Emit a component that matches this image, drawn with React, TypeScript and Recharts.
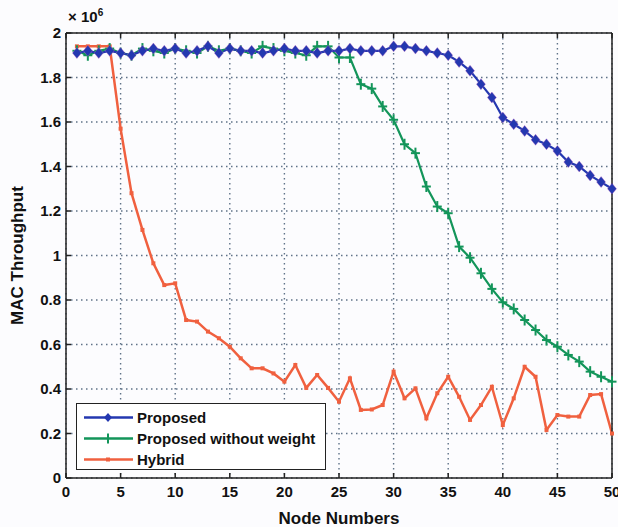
import React from 'react';
import { LineChart, Line, XAxis, YAxis, CartesianGrid, Legend, Label } from 'recharts';

// values are in units of 10^6
const nodes = [1, 2, 3, 4, 5, 6, 7, 8, 9, 10, 11, 12, 13, 14, 15, 16, 17, 18, 19, 20, 21, 22, 23, 24, 25, 26, 27, 28, 29, 30, 31, 32, 33, 34, 35, 36, 37, 38, 39, 40, 41, 42, 43, 44, 45, 46, 47, 48, 49, 50];
const proposed = [1.91, 1.92, 1.91, 1.92, 1.91, 1.9, 1.92, 1.93, 1.92, 1.93, 1.91, 1.92, 1.94, 1.91, 1.93, 1.92, 1.92, 1.91, 1.92, 1.93, 1.92, 1.92, 1.91, 1.92, 1.92, 1.93, 1.92, 1.92, 1.92, 1.94, 1.94, 1.93, 1.92, 1.91, 1.9, 1.87, 1.83, 1.77, 1.71, 1.62, 1.59, 1.56, 1.52, 1.5, 1.47, 1.42, 1.4, 1.36, 1.33, 1.3];
const proposedNoWeight = [1.92, 1.9, 1.92, 1.93, 1.91, 1.9, 1.93, 1.92, 1.91, 1.93, 1.92, 1.91, 1.94, 1.92, 1.93, 1.92, 1.91, 1.94, 1.93, 1.92, 1.91, 1.9, 1.94, 1.94, 1.89, 1.89, 1.77, 1.75, 1.67, 1.61, 1.5, 1.46, 1.31, 1.22, 1.19, 1.04, 0.99, 0.92, 0.85, 0.79, 0.76, 0.71, 0.665, 0.62, 0.59, 0.553, 0.523, 0.478, 0.455, 0.433];
const hybrid = [1.94, 1.94, 1.94, 1.94, 1.57, 1.28, 1.115, 0.965, 0.867, 0.875, 0.71, 0.703, 0.658, 0.628, 0.59, 0.538, 0.493, 0.493, 0.47, 0.433, 0.508, 0.405, 0.463, 0.405, 0.343, 0.448, 0.306, 0.308, 0.328, 0.478, 0.358, 0.403, 0.268, 0.381, 0.455, 0.365, 0.261, 0.328, 0.41, 0.238, 0.358, 0.5, 0.455, 0.216, 0.283, 0.276, 0.276, 0.373, 0.377, 0.2];

const xTicks = [0, 5, 10, 15, 20, 25, 30, 35, 40, 45, 50];
const yTicks = [0, 0.2, 0.4, 0.6, 0.8, 1, 1.2, 1.4, 1.6, 1.8, 2];

const data = nodes.map((n, i) => ({
  x: n,
  proposed: proposed[i],
  noWeight: proposedNoWeight[i],
  hybrid: hybrid[i],
}));

const BLUE = '#2438b0';
const GREEN = '#13955a';
const RED = '#f0603f';
const font = '"Liberation Sans", Arial, sans-serif';
const tickStyle = { fill: '#111', fontSize: 15, fontWeight: 700, fontFamily: font };

const Diamond = (p: any) => {
  const { cx, cy, index } = p;
  if (cx == null || cy == null) return <g key={index} />;
  return (
    <polygon key={index} points={`${cx},${cy - 5.5} ${cx + 4.5},${cy} ${cx},${cy + 5.5} ${cx - 4.5},${cy}`}
      fill={BLUE} stroke="#c060c0" strokeOpacity={0.35} strokeWidth={1} />
  );
};

const Plus = (p: any) => {
  const { cx, cy, index } = p;
  if (cx == null || cy == null) return <g key={index} />;
  return (
    <g key={index}>
      <line x1={cx - 4.5} y1={cy} x2={cx + 4.5} y2={cy} stroke={GREEN} strokeWidth={2} />
      <line x1={cx} y1={cy - 5.5} x2={cx} y2={cy + 5.5} stroke={GREEN} strokeWidth={2} />
    </g>
  );
};

const Dot = (p: any) => {
  const { cx, cy, index } = p;
  if (cx == null || cy == null) return <g key={index} />;
  return <rect key={index} x={cx - 2} y={cy - 2} width={4} height={4} fill={RED} />;
};

const legendRows = [
  { label: 'Proposed', color: BLUE, mark: 'diamond' },
  { label: 'Proposed without weight', color: GREEN, mark: 'plus' },
  { label: 'Hybrid', color: RED, mark: 'dot' },
];

const renderLegend = () => (
  <div style={{ width: 250, height: 67, border: '1.5px solid #222', background: '#fff', boxSizing: 'border-box', paddingTop: 3 }}>
    {legendRows.map((r) => (
      <div key={r.label} style={{ display: 'flex', alignItems: 'center', height: 21 }}>
        <svg width={60} height={21} style={{ flex: 'none' }}>
          <line x1={7} y1={10.5} x2={56} y2={10.5} stroke={r.color} strokeWidth={2.5} />
          {r.mark === 'diamond' && <polygon points="31,6 35,10.5 31,15 27,10.5" fill={r.color} />}
          {r.mark === 'plus' && <line x1={31} y1={5.5} x2={31} y2={15.5} stroke={r.color} strokeWidth={2} />}
          {r.mark === 'dot' && <rect x={29} y={8.5} width={4} height={4} fill={r.color} />}
        </svg>
        <span style={{ fontFamily: font, fontWeight: 700, fontSize: 15, color: '#111', whiteSpace: 'nowrap' }}>{r.label}</span>
      </div>
    ))}
  </div>
);

export default function App() {
  return (
    <div style={{ position: 'absolute', left: 0, top: 0, width: 618, height: 527, background: '#fcfcfe' }}>
      <LineChart width={618} height={527} data={data} margin={{ top: 0, right: 0, bottom: 0, left: 0 }}>
        <CartesianGrid stroke="#5f7288" strokeDasharray="1.5 3.5" strokeWidth={1.4} />
        <XAxis dataKey="x" type="number" domain={[0, 50]} ticks={xTicks} height={49}
          stroke="#222" strokeWidth={1.5} tickSize={-5} tickMargin={13} tick={tickStyle} interval={0}>
          <Label value="Node Numbers" position="insideBottom" offset={3}
            style={{ fill: '#111', fontSize: 17, fontWeight: 700, fontFamily: font }} />
        </XAxis>
        <XAxis xAxisId="top" orientation="top" dataKey="x" type="number" domain={[0, 50]} ticks={xTicks} height={33}
          stroke="#222" strokeWidth={1.5} tickSize={-5} tickFormatter={() => ''} interval={0} />
        <YAxis type="number" domain={[0, 2]} ticks={yTicks} width={66} interval={0}
          stroke="#222" strokeWidth={1.5} tickSize={-5} tickMargin={10} tick={tickStyle}>
          <Label value="MAC Throughput" angle={-90} position="insideLeft" offset={17}
            style={{ textAnchor: 'middle', fill: '#111', fontSize: 17, fontWeight: 700, fontFamily: font }} />
        </YAxis>
        <YAxis yAxisId="r" orientation="right" type="number" domain={[0, 2]} ticks={yTicks} width={6} interval={0}
          stroke="#222" strokeWidth={1.5} tickSize={-5} tickFormatter={() => ''} />
        <Legend layout="horizontal" verticalAlign="middle" content={renderLegend}
          wrapperStyle={{ left: 76, top: 403, width: 250, height: 67 }} />
        <Line dataKey="hybrid" name="Hybrid" stroke={RED} strokeWidth={2.5} dot={Dot} isAnimationActive={false} />
        <Line dataKey="noWeight" name="Proposed without weight" stroke={GREEN} strokeWidth={2.2} dot={Plus} isAnimationActive={false} />
        <Line dataKey="proposed" name="Proposed" stroke={BLUE} strokeWidth={2.2} dot={Diamond} isAnimationActive={false} />
      </LineChart>
      <div style={{ position: 'absolute', left: 68, top: 7, fontFamily: font, fontWeight: 700, fontSize: 15, color: '#111' }}>
        × 10<sup style={{ fontSize: 10 }}>6</sup>
      </div>
    </div>
  );
}
